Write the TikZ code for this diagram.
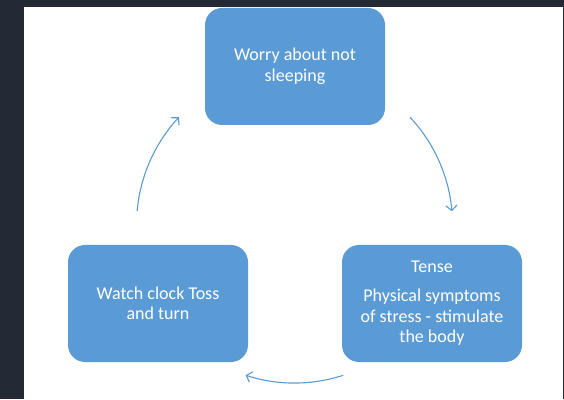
\documentclass[tikz,border=0pt]{standalone}
\usepackage{fontspec}
\setmainfont{Carlito}
\usetikzlibrary{arrows.meta,calc}
\definecolor{dark}{HTML}{232A36}
\definecolor{boxblue}{HTML}{5B9BD5}
\tikzset{
  cyclebox/.style={draw=none, fill=boxblue, rounded corners=17pt,
    minimum width=180pt, minimum height=117pt, text=white, align=center,
    inner sep=0pt, font=\fontsize{18}{20.5}\selectfont},
  cyclearrow/.style={draw=boxblue, line width=1.1pt,
    -{Straight Barb[length=5pt,width=11pt,line width=1.1pt]}}
}
\begin{document}
\begin{tikzpicture}[x=1pt,y=1pt]
  \fill[dark] (0,0) rectangle (564,399);
  \fill[white] (24,0) rectangle (563,392);
  \useasboundingbox (0,0) rectangle (564,399);
  \node[cyclebox] (worry) at (295,332.5) {Worry about not\\sleeping};
  \node[cyclebox] (watch) at (158,95.5) {Watch clock Toss\\and turn};
  \node[cyclebox] (tense) at (432,95.5) {Tense\\[8.5pt]Physical symptoms\\of stress - stimulate\\the body};
  \coordinate (c) at (294.5,174);
  \coordinate (a1s) at ($(c)+(175:158)$);
  \coordinate (a2s) at ($(c)+(43:158)$);
  \coordinate (a3s) at ($(c)+(-72:158)$);
  \draw[cyclearrow] (a1s) arc[start angle=175, end angle=137, radius=158];
  \draw[cyclearrow] (a2s) arc[start angle=43, end angle=5, radius=158];
  \draw[cyclearrow] (a3s) arc[start angle=-72, end angle=-108, radius=158];
\end{tikzpicture}
\end{document}
